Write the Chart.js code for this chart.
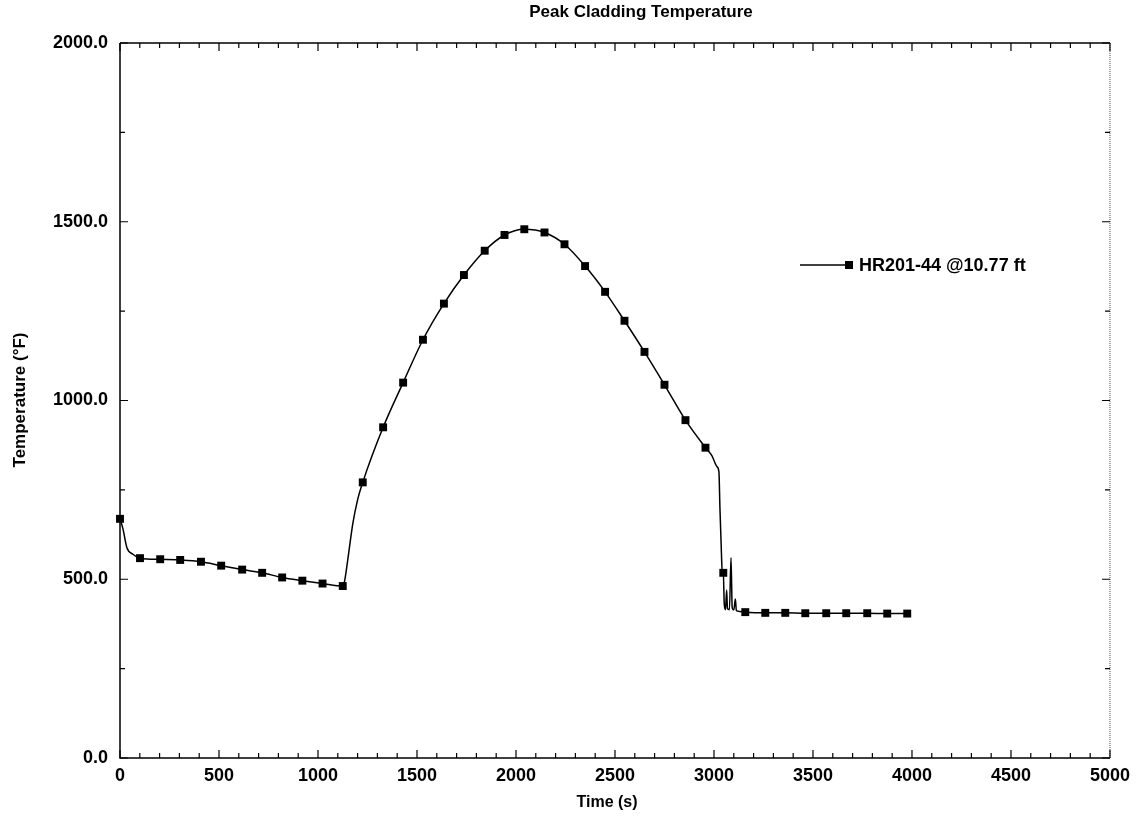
<!DOCTYPE html>
<html>
<head>
<meta charset="utf-8">
<title>Peak Cladding Temperature</title>
<script src="https://cdn.jsdelivr.net/npm/chart.js@4.4.1/dist/chart.umd.min.js"></script>
<style>
  body { margin: 0; background: #fff; }
  #wrap { width: 1137px; height: 819px; position: relative; }
</style>
</head>
<body>
<div id="wrap"><canvas id="myChart"></canvas></div>
<script>
'use strict';

// curve (time in s, temperature in F)
let lineTimes = [0, 15, 35, 65, 101, 203, 304, 409, 511, 617, 718, 819, 921, 1023, 1125,
  1135, 1150, 1176, 1200, 1226, 1329, 1430, 1530, 1636, 1737, 1842, 1942, 2042, 2144,
  2245, 2349, 2450, 2548, 2649, 2750, 2856, 2957, 2990, 3015, 3025, 3030, 3036, 3042,
  3047, 3052, 3058, 3064, 3068, 3078, 3086, 3092, 3100, 3108, 3113, 3130, 3158, 3259,
  3360, 3461, 3567, 3668, 3774, 3875, 3976];
let lineTemps = [669, 641, 588, 570, 559, 556, 554, 549, 538, 527, 518, 505, 496, 488, 481,
  497, 553, 656, 722, 771, 925, 1050, 1170, 1271, 1351, 1419, 1463, 1479, 1470,
  1437, 1376, 1304, 1223, 1136, 1044, 945, 868, 845, 815, 800, 700, 600, 520,
  518, 430, 415, 470, 418, 415, 560, 420, 414, 445, 412, 410, 408, 406,
  406, 405, 405, 405, 405, 404, 404];

// square markers along the curve
let markerTimes = [0, 101, 203, 304, 409, 511, 617, 718, 819, 921, 1023, 1125, 1226, 1329,
  1430, 1530, 1636, 1737, 1842, 1942, 2042, 2144, 2245, 2349, 2450, 2548, 2649, 2750,
  2856, 2957, 3047, 3158, 3259, 3360, 3461, 3567, 3668, 3774, 3875, 3976];
let markerTemps = [669, 559, 556, 554, 549, 538, 527, 518, 505, 496, 488, 481, 771, 925,
  1050, 1170, 1271, 1351, 1419, 1463, 1479, 1470, 1437, 1376, 1304, 1223, 1136, 1044,
  945, 868, 518, 408, 406, 406, 405, 405, 405, 405, 404, 404];

let seriesName = 'HR201-44 @10.77 ft';
let xTicks = [0, 500, 1000, 1500, 2000, 2500, 3000, 3500, 4000, 4500, 5000];
let yTicks = [0, 500, 1000, 1500, 2000];

function toPoints(xs, ys) {
  let pts = [];
  for (let i = 0; i < xs.length; i++) {
    pts.push({ x: xs[i], y: ys[i] });
  }
  return pts;
}

const FONT = 'Arial, "Liberation Sans", sans-serif';

// frame, inside ticks, titles and legend
const framePlugin = {
  id: 'frame',
  afterDraw(chart) {
    const ctx = chart.ctx;
    const a = chart.chartArea;
    const xs = chart.scales.x;
    const ys = chart.scales.y;
    ctx.save();

    // left, bottom, top borders
    ctx.strokeStyle = '#000';
    ctx.lineWidth = 1.5;
    ctx.beginPath();
    ctx.moveTo(a.left, a.top);
    ctx.lineTo(a.left, a.bottom);
    ctx.lineTo(a.right, a.bottom);
    ctx.moveTo(a.left, a.top);
    ctx.lineTo(a.right, a.top);
    ctx.stroke();

    // right border is lighter / dotted in the scan
    ctx.strokeStyle = '#444';
    ctx.lineWidth = 1;
    ctx.setLineDash([1, 1]);
    ctx.beginPath();
    ctx.moveTo(a.right, a.top);
    ctx.lineTo(a.right, a.bottom);
    ctx.stroke();
    ctx.setLineDash([]);

    // x ticks every 100, long every 500
    ctx.strokeStyle = '#000';
    ctx.lineWidth = 1.2;
    ctx.beginPath();
    for (let v = 0; v <= 5000; v += 100) {
      let px = xs.getPixelForValue(v);
      let len = (v % 500 === 0) ? 8 : 5;
      ctx.moveTo(px, a.bottom);
      ctx.lineTo(px, a.bottom - len);
      ctx.moveTo(px, a.top);
      ctx.lineTo(px, a.top + len);
    }
    // y ticks every 250, long every 500
    for (let v = 0; v <= 2000; v += 250) {
      let py = ys.getPixelForValue(v);
      let len = (v % 500 === 0) ? 8 : 5;
      ctx.moveTo(a.left, py);
      ctx.lineTo(a.left + len, py);
      ctx.moveTo(a.right, py);
      ctx.lineTo(a.right - len, py);
    }
    ctx.stroke();

    // titles
    ctx.fillStyle = '#000';
    ctx.textAlign = 'center';
    ctx.textBaseline = 'middle';
    ctx.font = 'bold 17px ' + FONT;
    ctx.fillText('Peak Cladding Temperature', 641, 12);
    ctx.font = 'bold 16px ' + FONT;
    ctx.fillText('Time (s)', 607, 803);
    ctx.save();
    ctx.translate(20, 400);
    ctx.rotate(-Math.PI / 2);
    ctx.font = 'bold 17px ' + FONT;
    ctx.fillText('Temperature (\u00B0F)', 0, 0);
    ctx.restore();

    // legend
    let ly = 265;
    ctx.lineWidth = 1.5;
    ctx.beginPath();
    ctx.moveTo(800, ly);
    ctx.lineTo(846, ly);
    ctx.stroke();
    ctx.fillRect(845, ly - 4, 8, 8);
    ctx.textAlign = 'left';
    ctx.font = 'bold 18px ' + FONT;
    ctx.fillText(seriesName, 859, ly + 1);

    ctx.restore();
  }
};

const ctx = document.getElementById('myChart');

new Chart(ctx, {
  type: 'scatter',
  data: {
    datasets: [
      {
        label: seriesName,
        data: toPoints(lineTimes, lineTemps),
        showLine: true,
        borderColor: '#000',
        borderWidth: 1.5,
        pointRadius: 0,
        cubicInterpolationMode: 'monotone',
      },
      {
        label: seriesName + ' markers',
        data: toPoints(markerTimes, markerTemps),
        showLine: false,
        clip: false,
        pointStyle: 'rect',
        pointRadius: 5.6,
        backgroundColor: '#000',
        borderColor: '#000',
        borderWidth: 0,
      },
    ],
  },
  options: {
    responsive: true,
    maintainAspectRatio: false,
    animation: false,
    layout: {
      padding: { top: 43, right: 26, left: 0, bottom: 0 },
    },
    plugins: {
      legend: { display: false },
      title: { display: false },
      tooltip: { enabled: false },
    },
    scales: {
      x: {
        type: 'linear',
        min: 0,
        max: 5000,
        afterFit: function (scale) { scale.height = 61; },
        afterBuildTicks: function (scale) {
          scale.ticks = xTicks.map(function (v) { return { value: v }; });
        },
        grid: { display: false, drawTicks: false },
        border: { display: false },
        ticks: {
          color: '#000',
          padding: 7,
          font: { family: FONT, size: 18, weight: 'bold' },
          callback: function (v) { return String(v); },
        },
      },
      y: {
        type: 'linear',
        min: 0,
        max: 2000,
        afterFit: function (scale) { scale.width = 120; },
        afterBuildTicks: function (scale) {
          scale.ticks = yTicks.map(function (v) { return { value: v }; });
        },
        grid: { display: false, drawTicks: false },
        border: { display: false },
        ticks: {
          color: '#000',
          padding: 12,
          font: { family: FONT, size: 18, weight: 'bold' },
          callback: function (v) { return v.toFixed(1); },
        },
      },
    },
  },
  plugins: [framePlugin],
});
</script>
</body>
</html>
